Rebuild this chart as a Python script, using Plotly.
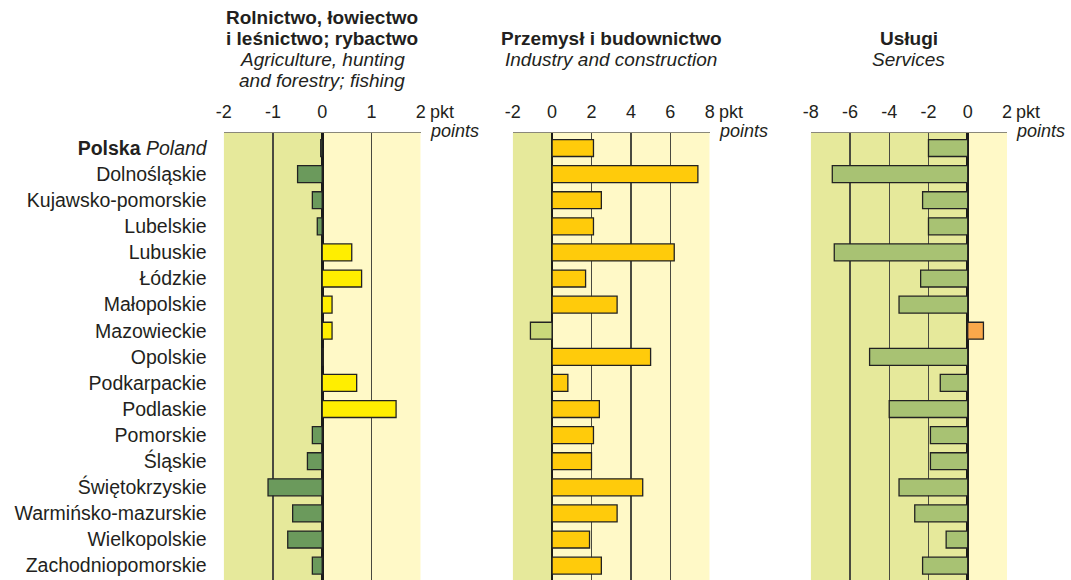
import plotly.graph_objects as go

regions = ["<b>Polska</b> <i>Poland</i>", "Dolnośląskie", "Kujawsko-pomorskie", "Lubelskie",
           "Lubuskie", "Łódzkie", "Małopolskie", "Mazowieckie", "Opolskie", "Podkarpackie",
           "Podlaskie", "Pomorskie", "Śląskie", "Świętokrzyskie", "Warmińsko-mazurskie",
           "Wielkopolskie", "Zachodniopomorskie"]

agriculture = [-0.03, -0.5, -0.2, -0.1, 0.6, 0.8, 0.2, 0.2, 0.02, 0.7, 1.5, -0.2, -0.3, -1.1, -0.6, -0.7, -0.2]
industry = [2.1, 7.4, 2.5, 2.1, 6.2, 1.7, 3.3, -1.1, 5.0, 0.8, 2.4, 2.1, 2.0, 4.6, 3.3, 1.9, 2.5]
services = [-2.0, -6.9, -2.3, -2.0, -6.8, -2.4, -3.5, 0.8, -5.0, -1.4, -4.0, -1.9, -1.9, -3.5, -2.7, -1.1, -2.3]

ticks_agr = [-2, -1, 0, 1, 2]
ticks_ind = [-2, 0, 2, 4, 6, 8]
ticks_srv = [-8, -6, -4, -2, 0, 2]

title_lines = [
    ["<b>Rolnictwo, łowiectwo</b>", "<b>i leśnictwo; rybactwo</b>",
     "<i>Agriculture, hunting</i>", "<i>and forestry; fishing</i>"],
    ["<b>Przemysł i budownictwo</b>", "<i>Industry and construction</i>"],
    ["<b>Usługi</b>", "<i>Services</i>"],
]

W, H = 1071, 580
FONT = "Liberation Sans, Arial, sans-serif"
TXT = "#231f20"
BG_NEG = "#E6E99B"
BG_POS = "#FFF9C7"

panels = [
    dict(vals=agriculture, ticks=ticks_agr, neg="#6B9A5C", pos="#FFEE00", px=(223.7, 420.7)),
    dict(vals=industry, ticks=ticks_ind, neg="#CAD87B", pos="#FFCB0B", px=(512.7, 709.7)),
    dict(vals=services, ticks=ticks_srv, neg="#A8C273", pos="#FAA84B", px=(810.7, 1007.0)),
]

top_px = 133
ytop = 1 - top_px / H
row_px = 26.1
y_first = -0.575
y_last = y_first + (H - top_px) / row_px


def py(ypx):
    return 1 - ypx / H


fig = go.Figure()
shapes = []
annotations = []
for i, p in enumerate(panels):
    idx = "" if i == 0 else str(i + 1)
    xa, ya = "x" + idx, "y" + idx
    colors = [p["pos"] if v >= 0 else p["neg"] for v in p["vals"]]
    fig.add_trace(go.Bar(
        x=p["vals"], y=regions, orientation="h", xaxis=xa, yaxis=ya,
        marker=dict(color=colors, line=dict(color="#222222", width=1.3)),
        width=0.65, showlegend=False, hoverinfo="skip",
    ))
    lo, hi = p["ticks"][0], p["ticks"][-1]
    d0, d1 = p["px"][0] / W, p["px"][1] / W
    fig.update_layout(**{
        "xaxis" + idx: dict(
            domain=[d0, d1], range=[lo, hi], side="top", tickvals=p["ticks"],
            ticktext=[str(t) for t in p["ticks"]], ticks="", ticklabelstandoff=6,
            showgrid=True, gridcolor="#4a4a40", gridwidth=1.2,
            zeroline=True, zerolinecolor="#1a1a1a", zerolinewidth=2.6,
            showline=True, mirror=True, linecolor="#8a887a", linewidth=1.5,
            tickfont=dict(family=FONT, size=18, color=TXT), anchor=ya, fixedrange=True,
            automargin=False,
        ),
        "yaxis" + idx: dict(
            domain=[0, ytop], type="category", categoryarray=regions,
            range=[y_last, y_first], showgrid=False, zeroline=False,
            showline=False, ticks="", showticklabels=(i == 0), ticklabelstandoff=16,
            tickfont=dict(family=FONT, size=19.5, color=TXT), anchor=xa, fixedrange=True,
            automargin=False,
        ),
    })
    shapes.append(dict(type="rect", xref=xa, yref=ya + " domain", x0=lo, x1=0, y0=0, y1=1,
                       fillcolor=BG_NEG, line=dict(width=0), layer="below"))
    shapes.append(dict(type="rect", xref=xa, yref=ya + " domain", x0=0, x1=hi, y0=0, y1=1,
                       fillcolor=BG_POS, line=dict(width=0), layer="below"))
    lines = title_lines[i]
    ys = [17, 38, 59, 80] if len(lines) == 4 else [38, 59]
    for txt, ypx in zip(lines, ys):
        annotations.append(dict(x=(d0 + d1) / 2, y=py(ypx), xref="paper", yref="paper",
                                text=txt, showarrow=False, xanchor="center", yanchor="middle",
                                font=dict(family=FONT, size=19, color=TXT)))
    annotations.append(dict(x=d1, y=py(112), xref="paper", yref="paper", text="pkt",
                            showarrow=False, xanchor="left", yanchor="middle", xshift=7,
                            font=dict(family=FONT, size=18, color=TXT)))
    annotations.append(dict(x=d1, y=py(131), xref="paper", yref="paper", text="<i>points</i>",
                            showarrow=False, xanchor="left", yanchor="middle", xshift=7,
                            font=dict(family=FONT, size=18, color=TXT)))

fig.update_layout(
    width=W, height=H, margin=dict(l=0, r=0, t=0, b=0, autoexpand=False),
    paper_bgcolor="white", plot_bgcolor="rgba(0,0,0,0)",
    shapes=shapes, annotations=annotations, bargap=0.35, hovermode=False,
    font=dict(family=FONT, color=TXT),
)

fig.write_html("out.html", config={"displayModeBar": False, "staticPlot": True},
               post_script="document.body.style.margin='0';")
